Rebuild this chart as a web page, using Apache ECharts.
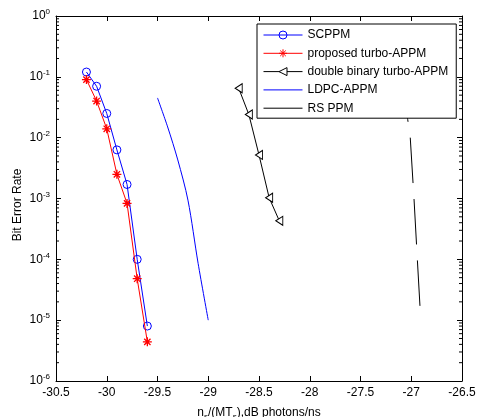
<!DOCTYPE html>
<html><head><meta charset="utf-8">
<script src="https://cdn.jsdelivr.net/npm/echarts@6/dist/echarts.min.js"></script>
<style>html,body{margin:0;padding:0;background:#fff}#c{width:479px;height:417px}</style>
</head><body><div id="c"></div>
<script>
// ---- data ----
const scppmX = [-30.2, -30.1, -30.0, -29.9, -29.8, -29.7, -29.6];
const scppmY = [0.12, 0.07, 0.025, 0.0063, 0.0017, 1.0e-4, 8.0e-6];
const turboX = [-30.2, -30.1, -30.0, -29.9, -29.8, -29.7, -29.6];
const turboY = [0.09, 0.04, 0.014, 0.0025, 8.3e-4, 4.8e-5, 4.4e-6];
const dbX = [-28.7, -28.6, -28.5, -28.4, -28.3];
const dbY = [0.065, 0.024, 0.0052, 0.00103, 4.3e-4];
const ldpcX = [-29.5, -29.4, -29.3, -29.2, -29.1, -29.0];
const ldpcY = [0.045, 0.015, 0.0043, 9.4e-4, 8.6e-5, 1.0e-5];
const rsX = [-27.1, -27.035, -27.01, -26.973, -26.94, -26.914];
const rsY = [0.1, 0.02, 0.0102, 1.0e-3, 1.0e-4, 1.7e-5];
const seriesNames = ['SCPPM', 'proposed turbo-APPM', 'double binary turbo-APPM', 'LDPC-APPM', 'RS PPM'];
const xMin = -30.5, xMax = -26.5, xStep = 0.5;
const yMin = 1e-6, yMax = 1;
const minorMantissas = [2, 3, 4, 5, 6, 7, 8, 9];
const decades = [-6, -5, -4, -3, -2, -1];

const zip = (xs, ys) => xs.map((x, i) => [x, ys[i]]);
const minorVals = [];
decades.forEach(d => minorMantissas.forEach(m => minorVals.push([xMin, m * Math.pow(10, d)])));

const FONT = 'Liberation Sans, Arial, sans-serif';
const chart = echarts.init(document.getElementById('c'), null, {renderer: 'canvas'});
const yLabel = v => {
  const e = Math.round(Math.log10(v));
  return '{b|10}{s|' + e + '}';
};
const yRich = {
  b: {fontSize: 12, fontFamily: FONT, color: '#000'},
  s: {fontSize: 8, fontFamily: FONT, color: '#000', padding: [0, 0, 8, 0]}
};
const star = 'path://M5,0L5,10M0,5L10,5M1.5,1.5L8.5,8.5M8.5,1.5L1.5,8.5';
const leftTri = 'path://M0,5L10,0L10,10Z';
const hidden = {color: 'transparent', borderColor: 'transparent', opacity: 0};

chart.setOption({
  animation: false,
  backgroundColor: '#fff',
  textStyle: {fontFamily: FONT},
  grid: {left: 56, top: 16, width: 406, height: 365, containLabel: false, outerBoundsMode: 'none'},
  legend: {
    orient: 'vertical', left: 257, top: 24,
    data: [
      {name: seriesNames[0], lineStyle: {width: 1}, itemStyle: {borderWidth: 1}},
      {name: seriesNames[1], lineStyle: {width: 1}, itemStyle: {borderWidth: 1}},
      {name: seriesNames[2], lineStyle: {width: 1}, itemStyle: {borderWidth: 1}},
      {name: seriesNames[3], lineStyle: {width: 1}, itemStyle: hidden},
      {name: seriesNames[4], lineStyle: {width: 1, type: 'solid'}, itemStyle: hidden}
    ],
    itemWidth: 39, itemHeight: 10, itemGap: 4.3,
    padding: [4, 8, 3, 6],
    backgroundColor: '#fff', borderColor: '#000', borderWidth: 1,
    textStyle: {fontSize: 12, color: '#000', fontFamily: FONT, lineHeight: 14},
    z: 10
  },
  xAxis: [{
    type: 'value', min: xMin, max: xMax, interval: xStep, position: 'bottom',
    axisLine: {show: true, onZero: false, lineStyle: {color: '#000', width: 1}},
    axisTick: {show: true, inside: true, length: 5, lineStyle: {color: '#000'}},
    axisLabel: {color: '#000', fontSize: 12, fontFamily: FONT, margin: 6},
    splitLine: {show: false},
    name: '{t|n}{sub|s}{t|/(MT}{sub|s}{t|),dB photons/ns}',
    nameLocation: 'middle', nameGap: 24,
    nameTextStyle: {rich: {
      t: {fontSize: 12, fontFamily: FONT, color: '#000'},
      sub: {fontSize: 8, fontFamily: FONT, color: '#000', padding: [8, 0, 0, 0]}
    }}
  }, {
    type: 'value', min: xMin, max: xMax, interval: xStep, position: 'top',
    axisLine: {show: true, onZero: false, lineStyle: {color: '#000', width: 1}},
    axisTick: {show: true, inside: true, length: 5, lineStyle: {color: '#000'}},
    axisLabel: {show: false}, splitLine: {show: false}
  }],
  yAxis: [{
    type: 'log', logBase: 10, min: yMin, max: yMax, splitNumber: 6, position: 'left',
    axisLine: {show: true, onZero: false, lineStyle: {color: '#000', width: 1}},
    axisTick: {show: true, inside: true, length: 5, lineStyle: {color: '#000'}},
    axisLabel: {formatter: yLabel, rich: yRich, margin: 6},
    splitLine: {show: false}
  }, {
    type: 'log', logBase: 10, min: yMin, max: yMax, splitNumber: 6, position: 'right',
    axisLine: {show: true, onZero: false, lineStyle: {color: '#000', width: 1}},
    axisTick: {show: true, inside: true, length: 5, lineStyle: {color: '#000'}},
    axisLabel: {show: false}, splitLine: {show: false}
  }],
  graphic: [{
    type: 'text', x: 18, y: 205, rotation: Math.PI / 2,
    style: {text: 'Bit Error Rate', fontSize: 12, fontFamily: FONT, fill: '#000',
            align: 'center', verticalAlign: 'middle'}
  }],
  series: [
    {
      name: seriesNames[0], type: 'line', data: zip(scppmX, scppmY),
      symbol: 'circle', symbolSize: 8, showAllSymbol: true,
      lineStyle: {color: '#0000ff', width: 1},
      itemStyle: {color: 'transparent', borderColor: '#0000ff', borderWidth: 1}, z: 3
    },
    {
      name: seriesNames[1], type: 'line', data: zip(turboX, turboY),
      symbol: star, symbolSize: 9, showAllSymbol: true,
      lineStyle: {color: '#ff0000', width: 1},
      itemStyle: {color: 'transparent', borderColor: '#ff0000', borderWidth: 1.3}, z: 4
    },
    {
      name: seriesNames[2], type: 'line', data: zip(dbX, dbY),
      symbol: leftTri, symbolSize: [7, 9], showAllSymbol: true,
      lineStyle: {color: '#000', width: 1},
      itemStyle: {color: '#fff', borderColor: '#000', borderWidth: 1}, z: 3
    },
    {
      name: seriesNames[3], type: 'line', data: zip(ldpcX, ldpcY), smooth: 0.3,
      symbol: 'none', lineStyle: {color: '#0000ff', width: 1},
      itemStyle: {color: '#0000ff'}, z: 3
    },
    {
      name: seriesNames[4], type: 'line', data: zip(rsX, rsY),
      symbol: 'none', lineStyle: {color: '#000', width: 1, type: [45.5, 16], dashOffset: 0},
      itemStyle: {color: '#000'}, z: 3
    },
    {
      name: 'minorTicks', type: 'custom', data: minorVals, silent: true, z: 5,
      renderItem: (params, api) => {
        const v = api.value(1);
        const l = api.coord([xMin, v]);
        const r = api.coord([xMax, v]);
        return {type: 'group', children: [
          {type: 'line', shape: {x1: l[0], y1: l[1], x2: l[0] + 3, y2: l[1]}, style: {stroke: '#000', lineWidth: 1}},
          {type: 'line', shape: {x1: r[0], y1: r[1], x2: r[0] - 3, y2: r[1]}, style: {stroke: '#000', lineWidth: 1}}
        ]};
      }
    }
  ]
});
</script>
</body></html>
